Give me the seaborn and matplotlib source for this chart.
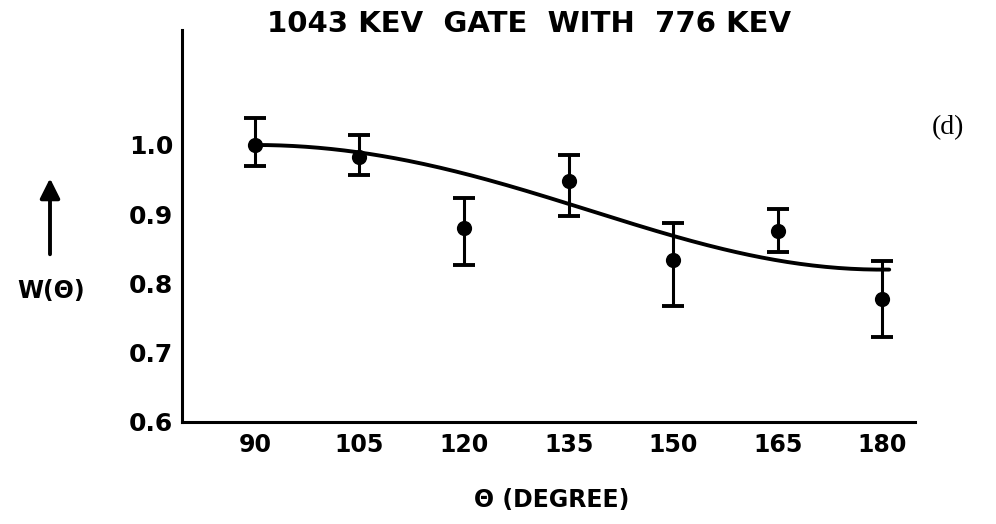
import numpy as np
import pandas as pd
import matplotlib
matplotlib.use("Agg")
import matplotlib.pyplot as plt
import seaborn as sns
from matplotlib.patches import FancyArrowPatch

# Measured angular correlation, 1043 keV gate with 776 keV
theta = [90, 105, 120, 135, 150, 165, 180]
w_theta = [1.000, 0.982, 0.880, 0.948, 0.834, 0.876, 0.777]
w_upper = [1.039, 1.014, 0.923, 0.986, 0.888, 0.907, 0.832]
w_lower = [0.970, 0.956, 0.826, 0.898, 0.768, 0.846, 0.722]

# Least-squares fit W = 1 + a2 cos^2 + a4 cos^4
fit_coeffs = [1.0, -0.16, -0.02]

x_ticks = [90, 105, 120, 135, 150, 165, 180]
y_ticks = [0.6, 0.7, 0.8, 0.9, 1.0]
y_ticklabels = ["0.6", "0.7", "0.8", "0.9", "1.0"]

sns.set_style("white")
ink = "#000000"
plt.rcParams["font.family"] = ["DejaVu Sans"]
plt.rcParams["font.weight"] = "bold"
plt.rcParams["text.color"] = ink
plt.rcParams["xtick.color"] = ink
plt.rcParams["ytick.color"] = ink

df = pd.DataFrame({"theta": theta, "w": w_theta,
                   "lo": w_lower, "hi": w_upper})

grid = np.linspace(90, 181, 200)
c2 = np.cos(np.radians(grid)) ** 2
fit = pd.DataFrame({"theta": grid,
                    "w": fit_coeffs[0] + fit_coeffs[1] * c2 + fit_coeffs[2] * c2 ** 2})

fig = plt.figure(figsize=(9.96, 5.24), dpi=100)
ax = fig.add_axes([0.1824, 0.1947, 0.7363, 0.748])

sns.lineplot(data=fit, x="theta", y="w", ax=ax, color=ink, linewidth=2.8,
             legend=False)
yerr = np.vstack([df["w"] - df["lo"], df["hi"] - df["w"]])
ax.errorbar(df["theta"], df["w"], yerr=yerr, fmt="none", ecolor=ink,
            elinewidth=2.2, capsize=8, capthick=2.8)
sns.scatterplot(data=df, x="theta", y="w", ax=ax, color=ink, s=120,
                edgecolor=ink, linewidth=0, zorder=5, legend=False)

ax.set_xlim(79.5, 184.7)
ax.set_ylim(0.6, 1.166)
ax.set_xticks(x_ticks)
ax.set_xticklabels([str(t) for t in x_ticks], fontsize=17, fontweight="bold",
                   color=ink)
ax.set_yticks(y_ticks)
ax.set_yticklabels(y_ticklabels, fontsize=18, fontweight="bold", color=ink)
ax.tick_params(axis="both", direction="in", length=7, width=1.5, colors=ink)
ax.tick_params(axis="x", pad=8)
ax.tick_params(axis="y", pad=6)
ax.set_xlabel("")
ax.set_ylabel("")
for side in ["top", "right"]:
    ax.spines[side].set_visible(False)
for side in ["left", "bottom"]:
    ax.spines[side].set_linewidth(2.2)
    ax.spines[side].set_color(ink)

fig.text(0.531, 0.955, "1043 KEV  GATE  WITH  776 KEV", ha="center",
         va="center", fontsize=21, fontweight="bold", color=ink)
fig.text(0.554, 0.046, "\u0398 (DEGREE)", ha="center", va="center",
         fontsize=17, fontweight="bold", color=ink)
fig.text(0.051, 0.445, "W(\u0398)", ha="center", va="center",
         fontsize=17, fontweight="bold", color=ink)
fig.text(0.952, 0.756, "(d)", ha="center", va="center", fontsize=20,
         fontweight="normal", family=["Liberation Serif"], color=ink)

arrow = FancyArrowPatch((0.0502, 0.5095), (0.0502, 0.665),
                        transform=fig.transFigure, arrowstyle="-|>",
                        mutation_scale=30, linewidth=2.8, color=ink)
fig.patches.append(arrow)

fig.savefig("out.png", dpi=100, facecolor="white")
